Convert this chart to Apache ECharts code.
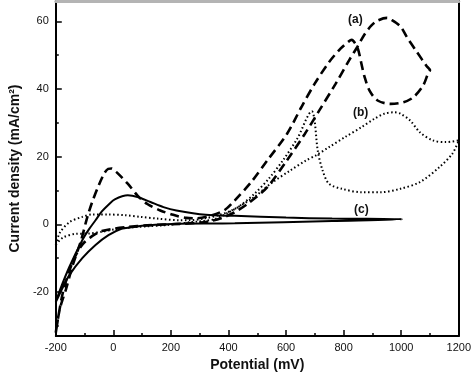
<!DOCTYPE html>
<html>
<head>
<meta charset="utf-8">
<script src="https://cdn.jsdelivr.net/npm/echarts@6/dist/echarts.min.js"></script>
<style>
  html, body { margin: 0; padding: 0; background: #fff; }
  #main { width: 474px; height: 377px; }
</style>
</head>
<body>
<div id="main"></div>
<script>
// potential (mV) vs current density (mA/cm2), each loop
var curveA = [
  [-200,-32],[-186,-25],[-164,-19],[-141,-12],[-113,-5],[-91,2],[-74,6.5],[-51,11.5],[-32,15],[-18,16.4],
  [-6,16.5],[10,15.5],[50,12],[84,8.5],[118,6],[163,4.1],[208,2.8],[253,1.9],[287,1.8],[343,2.7],
  [388,4.3],[422,7.1],[479,12.5],[535,18.9],[603,26.7],[653,34.6],[699,41.5],[749,47.9],[790,52],
  [817,54],[828,54.5],[840,53.5],[851,51.5],[862,47.4],[873,43.5],[890,39.5],[918,36.6],[963,35.6],
  [1008,36.1],[1043,37.6],[1076,41],[1093,44.5],[1100,45.5],[1088,46.8],[1054,51],[1020,55.3],
  [997,58.5],[963,60.6],[951,61],[918,60.2],[896,58.7],[873,56.2],[848,52.5],[822,48.9],[772,41.5],
  [715,33.6],[665,26.7],[603,18.9],[535,11],[467,6.1],[420,3.5],[380,2],[340,1],[300,0.5],[200,0],
  [118,-0.3],[50,-0.8],[0,-1.3],[-40,-2],[-74,-3.5],[-108,-6],[-141,-11],[-175,-20],[-200,-32]
];
var curveB = [
  [-200,-6],[-186,-2.5],[-153,0.6],[-108,2.2],[-74,2.9],[-17,2.9],[39,2.7],[95,2.2],[152,1.7],
  [231,1.2],[264,1.2],[320,1.8],[366,2.7],[411,4.1],[490,8.1],[546,12],[614,15.9],[670,18.9],
  [704,20.4],[749,22.8],[805,25.8],[862,28.7],[907,31.2],[941,32.7],[975,33.1],[997,32.7],
  [1031,30.7],[1065,27.2],[1110,24.8],[1155,24.3],[1200,24.8],[1178,20.9],[1133,16.9],[1065,12.5],
  [997,10.5],[930,9.5],[862,9.5],[794,10.5],[749,12],[727,15.9],[710,21.8],[699,30.7],[690,33.4],
  [640,25.5],[590,19],[540,13.5],[490,9],[440,5.5],[400,3.5],[350,1.5],[300,0.9],[264,0.6],
  [231,0.2],[174,-0.3],[118,-0.6],[73,-0.8],[5,-1.5],[-40,-2.2],[-85,-2.7],[-130,-2.8],
  [-175,-3.9],[-200,-6]
];
var curveC = [
  [-200,-23],[-186,-19.5],[-153,-12.6],[-108,-4.7],[-85,-1.5],[-62,1.2],[-40,3.8],[-17,5.8],[5,7.4],
  [50,8.6],[84,8.1],[129,6.6],[174,5.1],[219,4.1],[321,2.8],[422,2.5],[600,2],[760,1.7],[1003,1.5],
  [760,1],[422,0.3],[219,0.2],[174,0],[118,-0.3],[61,-0.9],[28,-1.3],[-17,-3.2],[-62,-6.1],
  [-108,-10],[-153,-15],[-175,-18.5],[-200,-23]
];
var yTicks = [-20, 0, 20, 40, 60];
var yMinorTicks = [-30, -10, 10, 30, 50];

var myChart = echarts.init(document.getElementById('main'));

var labelFont = { fontFamily: 'Liberation Sans, Arial', fontSize: 11, color: '#111' };
var plain = function (v) { return String(v); };

var option = {
  animation: false,
  grid: { left: 46, right: 14, top: 1, bottom: 41 },
  xAxis: [{
    type: 'value', min: -200, max: 1200, interval: 200,
    name: 'Potential (mV)', nameLocation: 'middle', nameGap: 20,
    nameTextStyle: { fontFamily: 'Liberation Sans, Arial', fontSize: 14, fontWeight: 'bold', color: '#111' },
    axisLine: { onZero: false, lineStyle: { color: '#000', width: 2 } },
    axisTick: { inside: true, length: 6, lineStyle: { color: '#000', width: 1.5 } },
    minorTick: { show: true, splitNumber: 2, length: 3, lineStyle: { color: '#000', width: 1.5 } },
    axisLabel: Object.assign({ margin: 6, formatter: plain }, labelFont),
    splitLine: { show: false }
  }, {
    type: 'value', position: 'top', min: -200, max: 1200,
    axisLine: { onZero: false, lineStyle: { color: '#b4b4b4', width: 3 } },
    axisTick: { show: false }, axisLabel: { show: false }, splitLine: { show: false }
  }],
  yAxis: [{
    type: 'value', min: -33, max: 66,
    name: 'Current density (mA/cm²)', nameLocation: 'middle', nameGap: 25,
    nameTextStyle: { fontFamily: 'Liberation Sans, Arial', fontSize: 14, fontWeight: 'bold', color: '#111' },
    axisLine: { onZero: false, lineStyle: { color: '#000', width: 2 } },
    axisTick: { inside: true, length: 6, customValues: yTicks, lineStyle: { color: '#000', width: 1.5 } },
    axisLabel: Object.assign({ margin: 7, customValues: yTicks, formatter: plain }, labelFont),
    splitLine: { show: false }
  }, {
    type: 'value', position: 'left', min: -33, max: 66,
    axisLine: { show: false, onZero: false },
    axisTick: { inside: true, length: 3, customValues: yMinorTicks, lineStyle: { color: '#000', width: 1.5 } },
    axisLabel: { show: false }, splitLine: { show: false }
  }, {
    type: 'value', position: 'right', min: -33, max: 66,
    axisLine: { onZero: false, lineStyle: { color: '#000', width: 2 } },
    axisTick: { show: false }, axisLabel: { show: false }, splitLine: { show: false }
  }],
  series: [{
    name: '(a)', type: 'line', data: curveA, showSymbol: false, smooth: 0.3,
    lineStyle: { color: '#000', width: 2.6, type: [9, 5] }
  }, {
    name: '(b)', type: 'line', data: curveB, showSymbol: false, smooth: 0.3,
    lineStyle: { color: '#000', width: 2, type: [1.5, 2.5] }
  }, {
    name: '(c)', type: 'line', data: curveC, showSymbol: false, smooth: 0.3,
    lineStyle: { color: '#000', width: 2, type: 'solid' }
  }],
  graphic: [
    { type: 'text', left: 348, top: 14, style: { text: '(a)', font: 'bold 12px Liberation Sans, Arial', fill: '#111' } },
    { type: 'text', left: 353, top: 107, style: { text: '(b)', font: 'bold 12px Liberation Sans, Arial', fill: '#111' } },
    { type: 'text', left: 354, top: 204, style: { text: '(c)', font: 'bold 12px Liberation Sans, Arial', fill: '#111' } }
  ]
};
myChart.setOption(option);
</script>
</body>
</html>
